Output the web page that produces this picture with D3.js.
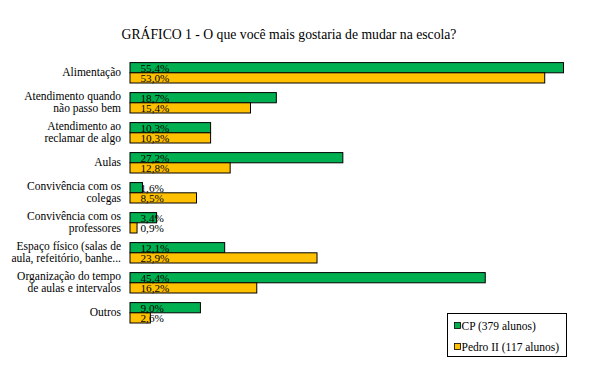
<!DOCTYPE html>
<html>
<head>
<meta charset="utf-8">
<script src="https://cdn.jsdelivr.net/npm/d3@7"></script>
<style>
  body { margin: 0; background: #fff; }
</style>
</head>
<body>
<svg id="chart"></svg>
<script>
var categories = [
  ["Alimentação"],
  ["Atendimento quando", "não passo bem"],
  ["Atendimento ao", "reclamar de algo"],
  ["Aulas"],
  ["Convivência com os", "colegas"],
  ["Convivência com os", "professores"],
  ["Espaço físico (salas de", "aula, refeitório, banhe..."],
  ["Organização do tempo", "de aulas e intervalos"],
  ["Outros"]
];
var seriesNames = ["CP (379 alunos)", "Pedro II (117 alunos)"];
var cpValues = [55.4, 18.7, 10.3, 27.2, 1.6, 3.4, 12.1, 45.4, 9.0];
var pedroValues = [53.0, 15.4, 10.3, 12.8, 8.5, 0.9, 23.9, 16.2, 2.6];
var colors = ["#00b050", "#ffc000"];

var width = 605,
  height = 373,
  serif = "Liberation Serif";

var chart = d3.select("#chart")
  .attr("width", width)
  .attr("height", height)
  .attr("font-family", serif);

var rows = categories.map(function(c, i) {
  return { key: String(i), lines: c, values: [cpValues[i], pedroValues[i]] };
});

var y = d3.scaleBand()
  .domain(rows.map(function(d) { return d.key; }))
  .range([57.3, 327.3])
  .paddingInner(0.32)
  .paddingOuter(0.16);

var ySub = d3.scaleBand()
  .domain([0, 1])
  .range([0, y.bandwidth()]);

var x = d3.scaleLinear()
  .domain([0, 55.4])
  .range([130, 563.5]);

chart.append("text")
  .attr("x", 289)
  .attr("y", 39)
  .attr("text-anchor", "middle")
  .attr("font-size", 13.7)
  .text("GRÁFICO 1 - O que você mais gostaria de mudar na escola?");

var groups = chart.selectAll("g.row")
  .data(rows)
  .enter().append("g")
  .attr("class", "row")
  .attr("transform", function(d) { return "translate(0," + y(d.key) + ")"; });

groups.selectAll("rect")
  .data(function(d) { return d.values; })
  .enter().append("rect")
  .attr("x", x(0))
  .attr("y", function(v, i) { return ySub(i) + 0.5; })
  .attr("width", function(v) { return x(v) - x(0); })
  .attr("height", ySub.bandwidth())
  .attr("fill", function(v, i) { return colors[i]; })
  .attr("stroke", "#000")
  .attr("stroke-width", 1);

// value labels sit ~10px in from the bar base, as in the original
groups.selectAll("text.val")
  .data(function(d) { return d.values; })
  .enter().append("text")
  .attr("class", "val")
  .attr("x", x(0) + 10.5)
  .attr("y", function(v, i) { return ySub(i) + ySub.bandwidth(); })
  .attr("font-size", 11.2)
  .text(function(v) { return v.toFixed(1).replace(".", ",") + "%"; });

groups.each(function(d) {
  var g = d3.select(this),
    mid = y.bandwidth() / 2,
    n = d.lines.length;
  d.lines.forEach(function(line, j) {
    g.append("text")
      .attr("x", 121)
      .attr("y", mid + (j - (n - 1) / 2) * 12.6 + 3.8)
      .attr("text-anchor", "end")
      .attr("font-size", 11.5)
      .text(line);
  });
});

// legend
var legend = chart.append("g")
  .attr("transform", "translate(447.5,313.5)");
legend.append("rect")
  .attr("width", 119)
  .attr("height", 43)
  .attr("fill", "#fff")
  .attr("stroke", "#000")
  .attr("stroke-width", 1);
seriesNames.forEach(function(name, i) {
  legend.append("rect")
    .attr("x", 7)
    .attr("y", 9 + i * 21)
    .attr("width", 6)
    .attr("height", 6)
    .attr("fill", colors[i])
    .attr("stroke", "#000")
    .attr("stroke-width", 0.8);
  legend.append("text")
    .attr("x", 14)
    .attr("y", 16 + i * 21)
    .attr("font-size", 11.5)
    .text(name);
});
</script>
</body>
</html>
